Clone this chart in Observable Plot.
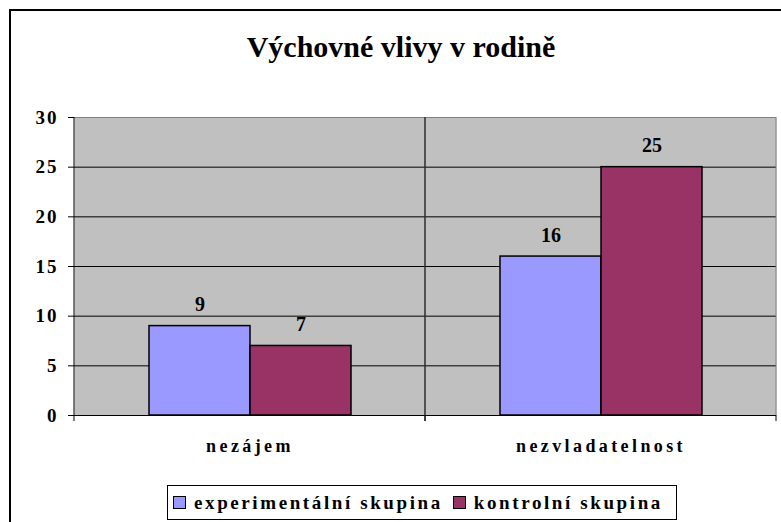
<!DOCTYPE html>
<html>
<head>
<meta charset="utf-8">
<script src="https://cdn.jsdelivr.net/npm/d3@7"></script>
<script src="https://cdn.jsdelivr.net/npm/@observablehq/plot@0.6"></script>
<style>
html, body { margin: 0; padding: 0; background: #fff; }
#wrap { position: relative; width: 781px; height: 522px; overflow: hidden;
  font-family: "Liberation Serif", "Times New Roman", serif; font-weight: bold; color: #000; }
#border { position: absolute; left: 9px; top: 9px; width: 800px; height: 600px;
  border: 2px solid #000; box-sizing: border-box; }
#title { position: absolute; left: 0; width: 802px; top: 32px; font-size: 30px;
  line-height: 30px; text-align: center; white-space: nowrap; }
#chart { position: absolute; left: 0; top: 0; }
#chart svg { font-family: "Liberation Serif", "Times New Roman", serif !important; font-weight: bold !important;
  font-size: 19px; background: transparent !important; overflow: visible; }
#chart svg text { font-family: "Liberation Serif", "Times New Roman", serif !important; font-weight: bold !important; }
#chart svg [aria-label="y-axis tick label"], #chart svg [aria-label="y-axis"] text { letter-spacing: 2px; }
#legend { position: absolute; left: 167px; top: 485px; width: 510px; height: 35px;
  box-sizing: border-box; border: 1px solid #000; background: #fff; display: flex;
  align-items: center; padding-left: 5px; font-size: 19px; letter-spacing: 2.6px; white-space: nowrap; }
#legend .item { display: flex; align-items: center; }
#legend .item + .item { margin-left: 10px; }
#legend .sw { display: inline-block; width: 11px; height: 11px; border: 1.5px solid #000; margin-right: 8px; }
</style>
</head>
<body>
<div id="wrap">
  <div id="border"></div>
  <div id="title"></div>
  <div id="chart"></div>
  <div id="legend"></div>
</div>
<script>
const title = "Výchovné vlivy v rodině";
const categories = ["nezájem", "nezvladatelnost"];
const series = ["experimentální skupina", "kontrolní skupina"];
const experimental = [9, 16];
const control = [7, 25];
const yTicks = [0, 5, 10, 15, 20, 25, 30];
const colors = ["#9999FF", "#993366"];

const data = categories.flatMap((c, i) => [
  {category: c, series: series[0], value: experimental[i]},
  {category: c, series: series[1], value: control[i]}
]);

document.getElementById("title").textContent = title;

// edges of each facet: black left line (axis / separator) with tick below, gray right border
const edgeMark = Plot.ruleX(categories, {fx: d => d, x: () => series[0]});
edgeMark.render = function(index, scales) {
  const [xa, xb] = scales.x.range();
  const y0 = scales.y(0), y1 = scales.y(30);
  const g = d3.create("svg:g");
  g.append("line").attr("x1", xb).attr("x2", xb).attr("y1", y1).attr("y2", y0).attr("stroke", "#808080");
  g.append("line").attr("x1", xb).attr("x2", xb).attr("y1", y0).attr("y2", y0 + 6).attr("stroke", "#000");
  g.append("line").attr("x1", xa).attr("x2", xa).attr("y1", y1).attr("y2", y0 + 6).attr("stroke", "#000");
  return g.node();
};

const chart = Plot.plot({
  width: 781,
  height: 522,
  marginLeft: 73,
  marginRight: 5,
  marginTop: 117,
  marginBottom: 107,
  style: "font-family: 'Liberation Serif', serif; font-weight: bold; font-size: 19px; color: #000; background: transparent; overflow: visible;",
  fx: {domain: categories, padding: 0, axis: null, label: null},
  x: {domain: series, paddingInner: 0, paddingOuter: 0.7376, axis: null},
  y: {domain: [0, 30], ticks: yTicks, tickSize: 6, tickPadding: 10, tickFormat: d => String(d), label: null},
  color: {domain: series, range: colors},
  marks: [
    Plot.frame({fill: "#C0C0C0"}),
    Plot.ruleY(yTicks.filter(t => t > 0 && t < 30), {stroke: "#000"}),
    Plot.ruleY([30], {stroke: "#808080"}),
    edgeMark,
    Plot.ruleY([0], {stroke: "#000"}),
    Plot.barY(data, {fx: "category", x: "series", y: "value", fill: "series", stroke: "#000", strokeWidth: 1.5}),
    Plot.text(data, {fx: "category", x: "series", y: "value", text: d => String(d.value),
      dy: -15, lineAnchor: "bottom", fontSize: 20}),
    Plot.text(categories, {fx: d => d, text: d => d, frameAnchor: "bottom", dy: 31,
      lineAnchor: "middle", fontSize: 18, fontFamily: "Liberation Serif, serif"})
  ]
});

chart.querySelectorAll('g[font-family="Liberation Serif, serif"]').forEach(g => g.setAttribute("letter-spacing", "3.4px"));
document.getElementById("chart").appendChild(chart);

const legend = document.getElementById("legend");
series.forEach((s, i) => {
  const item = document.createElement("span");
  item.className = "item";
  const sw = document.createElement("span");
  sw.className = "sw";
  sw.style.background = colors[i];
  const label = document.createElement("span");
  label.textContent = s;
  item.appendChild(sw);
  item.appendChild(label);
  legend.appendChild(item);
});
</script>
</body>
</html>
